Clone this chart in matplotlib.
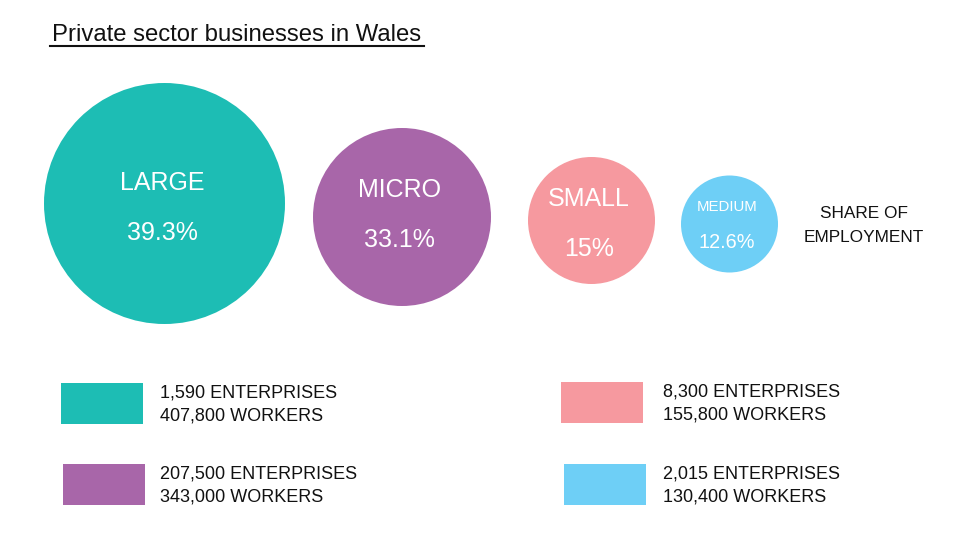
import matplotlib.pyplot as plt
from matplotlib.patches import Circle, Rectangle

plt.rcParams['font.family'] = ['Liberation Sans', 'DejaVu Sans']

# data
sizes = ['LARGE', 'MICRO', 'SMALL', 'MEDIUM']
share = [39.3, 33.1, 15, 12.6]
enterprises = ['1,590', '207,500', '8,300', '2,015']
workers = ['407,800', '343,000', '155,800', '130,400']
colors = ['#1dbdb4', '#a866a9', '#f6999f', '#6ecff6']

# layout (pixels)
circ_x = [164.5, 402, 591.5, 729.5]
circ_y = [203.5, 217, 220.5, 224]
circ_r = [120.5, 89, 63.5, 48.5]
name_fs = [18, 18, 18, 10.8]
pct_fs = [18, 18, 18, 14.3]
name_dy = [-21, -27, -21, -17]
pct_dy = [29, 23, 28, 19]
box_xy = [(61, 383), (63, 464), (561, 382), (564, 464)]

fig = plt.figure(figsize=(9.76, 5.49), dpi=100)
ax = fig.add_axes([0, 0, 1, 1])
ax.set_xlim(0, 976)
ax.set_ylim(549, 0)
ax.axis('off')

ax.text(52, 35, 'Private sector businesses in Wales', fontsize=17.2,
        va='center', ha='left', color='#111111')
ax.plot([50, 424], [45.5, 45.5], color='#111111', lw=1.5)

for i, name in enumerate(sizes):
    ax.add_patch(Circle((circ_x[i], circ_y[i]), circ_r[i], color=colors[i], lw=0))
    ax.text(circ_x[i] - 2.5, circ_y[i] + name_dy[i], name, color='white',
            fontsize=name_fs[i], ha='center', va='center')
    ax.text(circ_x[i] - 2.5, circ_y[i] + pct_dy[i], f'{share[i]:g}%', color='white',
            fontsize=pct_fs[i], ha='center', va='center')

    bx, by = box_xy[i]
    ax.add_patch(Rectangle((bx, by), 82, 41, color=colors[i], lw=0))
    ax.text(160 if i < 2 else 663, by + 10, f'{enterprises[i]} ENTERPRISES',
            fontsize=13, ha='left', va='center', color='#111111')
    ax.text(160 if i < 2 else 663, by + 33, f'{workers[i]} WORKERS',
            fontsize=13, ha='left', va='center', color='#111111')

ax.text(864, 225, 'SHARE OF\nEMPLOYMENT', fontsize=12.4, ha='center', va='center',
        linespacing=1.75, color='#111111')

fig.savefig('out.png', dpi=100)
